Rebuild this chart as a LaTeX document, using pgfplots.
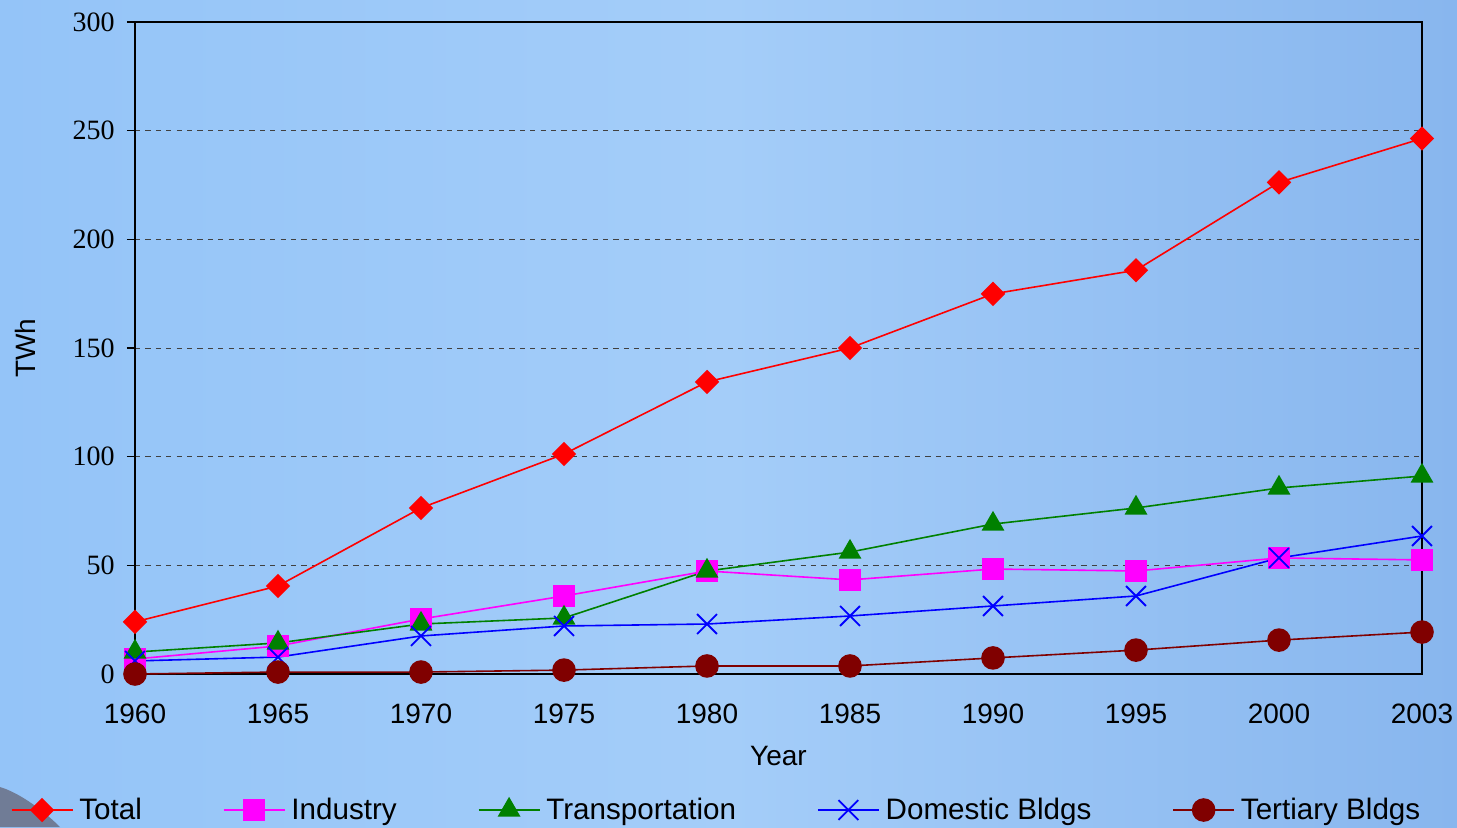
\documentclass[border=0pt]{standalone}
\usepackage{pgfplots}
\pgfplotsset{compat=1.18}
\usepackage{fontspec}
\setmainfont{Liberation Sans}
\newfontfamily\serifnum{Liberation Serif}

\definecolor{bgleft}{HTML}{94C4F8}
\definecolor{bgmid}{HTML}{A4CDF9}
\definecolor{bgright}{HTML}{88B6EE}
\definecolor{cTotal}{HTML}{FF0000}
\definecolor{cInd}{HTML}{FF00FF}
\definecolor{cTra}{HTML}{008000}
\definecolor{cDom}{HTML}{0000FF}
\definecolor{cTer}{HTML}{800000}

\begin{document}
\begin{tikzpicture}
% page background
\shade[left color=bgleft, right color=bgright, middle color=bgmid] (0pt,0pt) rectangle (728.5pt,413.5pt);
\fill[color={rgb,255:red,112;green,124;blue,150}] (0pt,0pt) -- (0pt,20pt) .. controls (10pt,17pt) and (22pt,8pt) .. (30pt,0pt) -- cycle;
\useasboundingbox (0pt,0pt) rectangle (728.5pt,413.5pt);
\begin{axis}[
  at={(67.5pt,76.5pt)}, anchor=south west,
  scale only axis, width=643.5pt, height=326pt,
  xmin=0, xmax=9, ymin=0, ymax=300,
  xtick={0,...,9},
  xticklabels={1960,1965,1970,1975,1980,1985,1990,1995,2000,2003},
  ytick={0,50,...,300},
  /pgf/number format/assume math mode=true,
  xtick style={draw=none},
  ytick pos=left, tick align=outside,
  major tick length=4pt,
  ytick style={line width=0.6pt, black},
  xticklabel style={font=\fontsize{14}{14}\selectfont, anchor=base, yshift=-20.5pt},
  yticklabel style={font=\serifnum\fontsize{14}{14}\selectfont, anchor=east, inner sep=0pt, xshift=-6pt},
  axis line style={line width=0.9pt, black},
  ymajorgrids,
  grid style={dash pattern=on 2.6pt off 2.6pt, line width=0.5pt, black!75},
  clip=false,
  xlabel={Year}, ylabel={TWh},
  every axis x label/.style={at={(axis description cs:0.5,0)}, anchor=base, yshift=-45.5pt, font=\fontsize{14}{14}\selectfont},
  every axis y label/.style={at={(axis description cs:-0.0855,0.5)}, rotate=90, anchor=center, font=\fontsize{14}{14}\selectfont},
  legend columns=5,
  legend image code/.code={\draw[mark repeat=2,mark phase=2,#1] plot coordinates {(0pt,0pt) (15.25pt,0pt) (30.5pt,0pt)};},
  legend style={at={(axis description cs:0.4534,-0.2086)}, anchor=center, draw=none, fill=none,
    font=\fontsize{14.8}{14.8}\selectfont, inner sep=0pt,
    /tikz/every even column/.append style={column sep=37.5pt},
    nodes={inner sep=3pt}},
  every axis plot/.append style={line width=0.8pt},
]
% Total
\addplot[cTotal, mark=square*, mark size=3.9pt, mark options={rotate=45, solid}] coordinates {
(0,24) (1,40.5) (2,76.4) (3,101.2) (4,134.4) (5,150) (6,174.9) (7,185.8) (8,226.2) (9,246.4)};
\addlegendentry{Total}
% Industry
\addplot[cInd, mark=square*, mark size=5.2pt] coordinates {
(0,6.9) (1,12.9) (2,25.3) (3,35.9) (4,47.4) (5,43.3) (6,48.3) (7,47.4) (8,53.4) (9,52.5)};
\addlegendentry{Industry}
% Transportation
\addplot[cTra, mark=triangle*, mark size=5.8pt] coordinates {
(0,10.1) (1,14.3) (2,23) (3,25.8) (4,47.4) (5,56.1) (6,69) (7,76.4) (8,85.6) (9,91.1)};
\addlegendentry{Transportation}
% Domestic buildings
\addplot[cDom, mark=x, mark size=7pt, mark options={line width=0.9pt}] coordinates {
(0,6) (1,7.8) (2,17.5) (3,22.1) (4,23) (5,26.7) (6,31.3) (7,35.9) (8,53.4) (9,63.5)};
\addlegendentry{Domestic Bldgs}
% Tertiary buildings
\addplot[cTer, mark=*, mark size=5.5pt] coordinates {
(0,0) (1,0.9) (2,0.9) (3,1.8) (4,3.7) (5,3.7) (6,7.4) (7,11) (8,15.6) (9,19.3)};
\addlegendentry{Tertiary Bldgs}
\end{axis}
\end{tikzpicture}
\end{document}
